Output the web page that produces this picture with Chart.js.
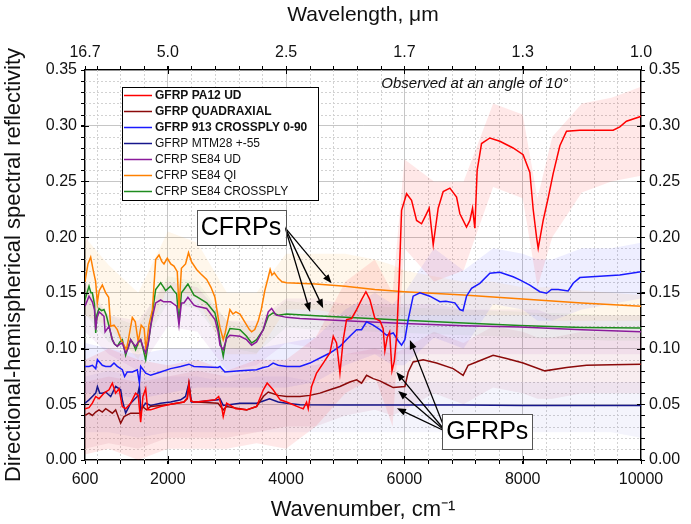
<!DOCTYPE html>
<html>
<head>
<meta charset="utf-8">
<script src="https://cdn.jsdelivr.net/npm/chart.js@4.4.0/dist/chart.umd.min.js"></script>
<style>
  html, body { margin: 0; padding: 0; background: #fff; }
</style>
</head>
<body>
<canvas id="grafico" width="691" height="524"></canvas>
<script>
// Ejes: numero de onda abajo, longitud de onda arriba (mismas posiciones)
var wnTicks = [600, 2000, 4000, 6000, 8000, 10000];
var wlLabels = ['16.7', '5.0', '2.5', '1.7', '1.3', '1.0'];
var yTicks = [0, 0.05, 0.10, 0.15, 0.20, 0.25, 0.30, 0.35];

var nombres = ['GFRP PA12 UD', 'GFRP QUADRAXIAL', 'GFRP 913 CROSSPLY 0-90', 'GFRP MTM28 +-55',
               'CFRP SE84 UD', 'CFRP SE84 QI', 'CFRP SE84 CROSSPLY'];

// Curvas medias [numero de onda, reflectividad]
var pa12 = [[600,0.046],[668,0.047],[724,0.051],[781,0.057],[837,0.055],[921,0.060],[1006,0.063],[1062,0.069],[1118,0.060],[1175,0.064],[1231,0.048],[1287,0.046],[1372,0.051],[1456,0.060],[1500,0.058],[1541,0.034],[1580,0.057],[1626,0.064],[1660,0.045],[1710,0.045],[1879,0.048],[2048,0.050],[2273,0.052],[2330,0.056],[2357,0.068],[2390,0.053],[2442,0.052],[2487,0.052],[2797,0.054],[2860,0.057],[2910,0.048],[2937,0.039],[2994,0.051],[3150,0.046],[3332,0.045],[3501,0.048],[3614,0.063],[3680,0.069],[3780,0.063],[3900,0.054],[4009,0.052],[4234,0.047],[4290,0.046],[4346,0.052],[4374,0.046],[4431,0.066],[4515,0.078],[4628,0.087],[4740,0.096],[4797,0.111],[4853,0.105],[4910,0.078],[4966,0.108],[5022,0.126],[5107,0.127],[5192,0.135],[5276,0.144],[5349,0.151],[5416,0.144],[5501,0.127],[5586,0.125],[5640,0.118],[5670,0.098],[5710,0.110],[5750,0.115],[5790,0.080],[5830,0.089],[5870,0.112],[5910,0.160],[5952,0.224],[6037,0.239],[6121,0.233],[6206,0.215],[6290,0.212],[6346,0.218],[6419,0.226],[6487,0.193],[6571,0.226],[6656,0.241],[6769,0.244],[6882,0.236],[6938,0.221],[7050,0.209],[7107,0.215],[7152,0.226],[7191,0.208],[7230,0.260],[7304,0.284],[7445,0.289],[7614,0.286],[7838,0.280],[8007,0.274],[8121,0.258],[8177,0.225],[8234,0.200],[8262,0.190],[8346,0.215],[8430,0.235],[8515,0.257],[8628,0.282],[8741,0.295],[8966,0.296],[9304,0.296],[9529,0.296],[9642,0.299],[9754,0.304],[9980,0.308],[10000,0.309]];
var quad = [[600,0.040],[668,0.042],[724,0.040],[781,0.043],[837,0.045],[893,0.043],[950,0.046],[1062,0.042],[1118,0.045],[1203,0.033],[1260,0.039],[1372,0.042],[1541,0.042],[1569,0.048],[1640,0.045],[1710,0.048],[1879,0.049],[2048,0.050],[2273,0.052],[2330,0.055],[2357,0.068],[2390,0.053],[2442,0.052],[2487,0.052],[2850,0.051],[2937,0.045],[2994,0.048],[3220,0.046],[3332,0.045],[3501,0.048],[3614,0.057],[3698,0.061],[3867,0.058],[4009,0.057],[4234,0.057],[4402,0.058],[4572,0.060],[4740,0.063],[4910,0.066],[5078,0.070],[5192,0.072],[5276,0.069],[5360,0.076],[5473,0.073],[5586,0.071],[5698,0.068],[5811,0.065],[6008,0.066],[6064,0.079],[6148,0.088],[6317,0.090],[6543,0.087],[6824,0.082],[6993,0.076],[7078,0.085],[7219,0.088],[7500,0.094],[7726,0.091],[8007,0.087],[8374,0.080],[8741,0.083],[9079,0.085],[9500,0.0855],[10000,0.086]];
var cp913 = [[600,0.084],[668,0.084],[724,0.085],[781,0.082],[810,0.090],[893,0.085],[950,0.084],[1034,0.084],[1090,0.087],[1146,0.084],[1231,0.081],[1270,0.075],[1315,0.079],[1400,0.079],[1484,0.081],[1520,0.069],[1541,0.084],[1626,0.078],[1710,0.076],[1879,0.079],[2048,0.082],[2217,0.084],[2357,0.086],[2442,0.084],[2850,0.083],[2882,0.084],[2965,0.079],[3220,0.080],[3501,0.081],[3614,0.083],[3700,0.084],[3780,0.087],[3867,0.085],[4009,0.084],[4234,0.084],[4402,0.087],[4572,0.0915],[4740,0.096],[4910,0.102],[5078,0.111],[5192,0.117],[5276,0.117],[5360,0.124],[5473,0.121],[5586,0.117],[5698,0.112],[5811,0.114],[5895,0.107],[5952,0.103],[6008,0.108],[6064,0.126],[6148,0.147],[6261,0.150],[6430,0.147],[6600,0.142],[6700,0.1425],[6853,0.141],[6937,0.135],[6990,0.134],[7050,0.147],[7135,0.154],[7275,0.1585],[7445,0.1676],[7613,0.1685],[7838,0.1645],[7951,0.1616],[8120,0.157],[8290,0.151],[8403,0.1496],[8487,0.153],[8600,0.153],[8768,0.1517],[8853,0.1586],[8966,0.1637],[9303,0.165],[9641,0.166],[10000,0.169]];
var mtm28 = [[600,0.051],[668,0.054],[724,0.057],[781,0.060],[810,0.066],[850,0.060],[893,0.060],[950,0.061],[1034,0.057],[1118,0.066],[1203,0.063],[1231,0.054],[1287,0.042],[1372,0.051],[1484,0.057],[1520,0.066],[1541,0.045],[1626,0.051],[1710,0.049],[1879,0.051],[2048,0.052],[2217,0.054],[2300,0.057],[2357,0.069],[2400,0.052],[2487,0.052],[2850,0.054],[2882,0.055],[2937,0.049],[3220,0.051],[3501,0.051],[3614,0.053],[3720,0.055],[3867,0.052],[4009,0.051],[4234,0.0495],[5000,0.0494],[6000,0.0494],[7000,0.0494],[8000,0.049],[9000,0.0488],[10000,0.049]];
var se84ud = [[600,0.138],[668,0.147],[724,0.142],[760,0.135],[781,0.117],[800,0.127],[837,0.133],[880,0.131],[921,0.129],[940,0.115],[1006,0.120],[1062,0.108],[1100,0.104],[1146,0.102],[1190,0.104],[1231,0.105],[1287,0.096],[1330,0.100],[1372,0.108],[1420,0.104],[1456,0.102],[1500,0.106],[1541,0.108],[1590,0.100],[1626,0.096],[1670,0.105],[1710,0.120],[1760,0.133],[1795,0.141],[1879,0.1436],[1930,0.142],[1964,0.142],[2048,0.142],[2100,0.140],[2150,0.138],[2189,0.121],[2230,0.141],[2273,0.141],[2340,0.146],[2442,0.139],[2487,0.138],[2657,0.136],[2797,0.126],[2850,0.115],[2882,0.103],[2937,0.099],[2994,0.109],[3050,0.112],[3220,0.111],[3332,0.108],[3417,0.103],[3501,0.106],[3614,0.117],[3698,0.133],[3755,0.136],[3830,0.130],[4009,0.128],[4234,0.127],[5000,0.125],[6000,0.1225],[7000,0.1205],[7951,0.1194],[9000,0.117],[10000,0.115]];
var se84qi = [[600,0.160],[650,0.176],[696,0.182],[740,0.170],[780,0.160],[808,0.141],[840,0.152],[893,0.157],[950,0.150],[1000,0.146],[1034,0.120],[1090,0.121],[1146,0.117],[1200,0.109],[1250,0.104],[1300,0.099],[1340,0.110],[1400,0.128],[1450,0.124],[1500,0.106],[1550,0.121],[1600,0.118],[1630,0.099],[1680,0.121],[1740,0.135],[1795,0.180],[1851,0.184],[1900,0.178],[1935,0.176],[1991,0.181],[2050,0.176],[2104,0.174],[2160,0.169],[2189,0.136],[2230,0.172],[2300,0.176],[2350,0.186],[2400,0.178],[2487,0.171],[2560,0.167],[2657,0.162],[2730,0.155],[2797,0.146],[2850,0.128],[2882,0.119],[2937,0.108],[2970,0.114],[3000,0.122],[3050,0.135],[3100,0.131],[3150,0.133],[3220,0.131],[3300,0.124],[3380,0.117],[3417,0.115],[3470,0.117],[3530,0.125],[3580,0.135],[3640,0.152],[3698,0.164],[3730,0.171],[3760,0.166],[3800,0.168],[3867,0.163],[3930,0.160],[4009,0.159],[4500,0.158],[5000,0.156],[5500,0.153],[6000,0.151],[7000,0.148],[8000,0.1445],[9000,0.141],[10000,0.138]];
var se84cp = [[600,0.144],[668,0.156],[700,0.150],[724,0.150],[760,0.140],[781,0.114],[800,0.130],[837,0.136],[880,0.134],[921,0.135],[960,0.130],[1006,0.120],[1062,0.108],[1100,0.104],[1146,0.102],[1190,0.106],[1231,0.108],[1287,0.094],[1320,0.100],[1372,0.108],[1420,0.104],[1456,0.099],[1500,0.105],[1541,0.108],[1590,0.098],[1626,0.090],[1670,0.105],[1710,0.120],[1760,0.140],[1795,0.153],[1879,0.159],[1930,0.155],[1964,0.152],[2048,0.156],[2100,0.152],[2150,0.149],[2189,0.124],[2230,0.150],[2273,0.153],[2340,0.158],[2442,0.148],[2487,0.1466],[2657,0.141],[2797,0.132],[2850,0.120],[2882,0.108],[2937,0.093],[2994,0.111],[3050,0.118],[3220,0.117],[3332,0.111],[3417,0.105],[3501,0.108],[3614,0.117],[3698,0.129],[3780,0.132],[3867,0.130],[4009,0.131],[4500,0.1295],[5000,0.128],[5586,0.1266],[6000,0.1255],[7000,0.123],[7951,0.1206],[9000,0.119],[10000,0.1185]];

// Bandas de dispersion (limite superior / inferior)
var bandWn = [600, 1000, 1500, 2000, 2500, 3000, 3500, 4000, 4500, 5000, 5500, 5800, 6000, 6500, 7000, 7500, 8000, 8250, 8500, 9000, 9500, 10000];
var pa12Up = [0.09, 0.10, 0.09, 0.085, 0.09, 0.08, 0.09, 0.09, 0.11, 0.16, 0.18, 0.15, 0.27, 0.25, 0.25, 0.32, 0.31, 0.235, 0.29, 0.32, 0.325, 0.335];
var pa12Lo = [0.005, 0.01, 0.0, 0.01, 0.01, 0.01, 0.015, 0.01, 0.03, 0.06, 0.075, 0.03, 0.19, 0.16, 0.17, 0.245, 0.235, 0.155, 0.2, 0.24, 0.25, 0.255];
var quadUp = [0.07, 0.075, 0.07, 0.075, 0.08, 0.075, 0.08, 0.085, 0.085, 0.095, 0.10, 0.095, 0.10, 0.115, 0.105, 0.12, 0.115, 0.11, 0.11, 0.115, 0.115, 0.115];
var quadLo = [0.01, 0.015, 0.01, 0.02, 0.02, 0.02, 0.025, 0.03, 0.03, 0.04, 0.045, 0.04, 0.045, 0.06, 0.05, 0.065, 0.06, 0.055, 0.055, 0.06, 0.06, 0.06];
var cp913Up = [0.105, 0.10, 0.095, 0.10, 0.10, 0.10, 0.10, 0.105, 0.11, 0.135, 0.15, 0.14, 0.15, 0.19, 0.17, 0.19, 0.185, 0.18, 0.18, 0.19, 0.19, 0.195];
var cp913Lo = [0.06, 0.06, 0.055, 0.06, 0.065, 0.065, 0.065, 0.065, 0.07, 0.085, 0.095, 0.085, 0.085, 0.11, 0.10, 0.14, 0.135, 0.125, 0.125, 0.135, 0.14, 0.145];
var mtmUp = [0.075, 0.08, 0.075, 0.075, 0.075, 0.07, 0.075, 0.075, 0.07, 0.07, 0.07, 0.07, 0.07, 0.07, 0.07, 0.07, 0.07, 0.07, 0.07, 0.07, 0.07, 0.07];
var mtmLo = [0.025, 0.025, 0.02, 0.025, 0.025, 0.025, 0.025, 0.025, 0.025, 0.025, 0.025, 0.025, 0.025, 0.025, 0.025, 0.025, 0.025, 0.025, 0.025, 0.025, 0.025, 0.02];
var udUp = [0.16, 0.13, 0.125, 0.16, 0.155, 0.125, 0.125, 0.145, 0.145, 0.14, 0.14, 0.14, 0.14, 0.14, 0.135, 0.135, 0.135, 0.135, 0.13, 0.13, 0.13, 0.13];
var udLo = [0.115, 0.095, 0.08, 0.12, 0.115, 0.08, 0.085, 0.105, 0.10, 0.095, 0.095, 0.095, 0.095, 0.095, 0.095, 0.095, 0.095, 0.095, 0.095, 0.095, 0.095, 0.095];
var qiUp = [0.20, 0.175, 0.15, 0.205, 0.195, 0.15, 0.15, 0.185, 0.185, 0.185, 0.18, 0.175, 0.17, 0.165, 0.16, 0.16, 0.155, 0.155, 0.155, 0.152, 0.15, 0.148];
var qiLo = [0.13, 0.12, 0.09, 0.155, 0.145, 0.095, 0.095, 0.135, 0.135, 0.13, 0.13, 0.13, 0.13, 0.13, 0.13, 0.13, 0.13, 0.13, 0.125, 0.125, 0.125, 0.125];
var cpUp = [0.155, 0.13, 0.12, 0.165, 0.16, 0.125, 0.12, 0.143, 0.14, 0.139, 0.138, 0.137, 0.137, 0.136, 0.135, 0.134, 0.133, 0.132, 0.132, 0.131, 0.13, 0.13];
var cpLo = [0.131, 0.106, 0.096, 0.141, 0.136, 0.101, 0.096, 0.119, 0.117, 0.116, 0.115, 0.114, 0.114, 0.113, 0.112, 0.111, 0.11, 0.109, 0.109, 0.108, 0.107, 0.107];

// Anotaciones en unidades de datos
var notaAngulo = { texto: 'Observed at an angle of 10\u00b0', wn: 5610, r: 0.3375 };
var cajaCFRP = { texto: 'CFRPs', wn: 3236, r: 0.2087 };
var origenCFRP = [3985, 0.2083];
var flechasCFRP = [[4769, 0.1586], [4627, 0.1362], [4403, 0.1331]];
var cajaGFRP = { texto: 'GFRPs', wn: 7402, r: 0.0256 };
var origenGFRP = [6700, 0.0256];
var flechasGFRP = [[5864, 0.079], [5895, 0.062], [5873, 0.0464], [6092, 0.1077]];

var fuente = '"Liberation Sans", Arial, sans-serif';
Chart.defaults.font.family = fuente;
Chart.defaults.color = '#000';

var series = [
    { datos: pa12,   color: '#ff0000', negrita: true,  up: pa12Up,  lo: pa12Lo,  banda: 'rgba(255, 0, 0, 0.09)' },
    { datos: quad,   color: '#8b0a0a', negrita: true,  up: quadUp,  lo: quadLo,  banda: 'rgba(170, 20, 60, 0.08)' },
    { datos: cp913,  color: '#1a1aff', negrita: true,  up: cp913Up, lo: cp913Lo, banda: 'rgba(40, 40, 255, 0.08)' },
    { datos: mtm28,  color: '#16168c', negrita: false, up: mtmUp,   lo: mtmLo,   banda: 'rgba(60, 60, 200, 0.06)' },
    { datos: se84ud, color: '#8b1a9b', negrita: false, up: udUp,    lo: udLo,    banda: 'rgba(140, 30, 160, 0.07)' },
    { datos: se84qi, color: '#ff8000', negrita: false, up: qiUp,    lo: qiLo,    banda: 'rgba(255, 150, 0, 0.08)' },
    { datos: se84cp, color: '#1e8c1e', negrita: false, up: cpUp,    lo: cpLo,    banda: 'rgba(30, 140, 30, 0.05)' }
];

function puntos(lista) {
    return lista.map(function (p) { return { x: p[0], y: p[1] }; });
}
function limite(valores) {
    return valores.map(function (v, i) { return { x: bandWn[i], y: v }; });
}

var datasets = [];
series.forEach(function (s, i) {
    datasets.push({
        label: nombres[i], data: puntos(s.datos), borderColor: s.color,
        borderWidth: 1.5, pointRadius: 0, fill: false, order: 0
    });
});
series.forEach(function (s, i) {
    datasets.push({
        label: nombres[i] + ' max', data: limite(s.up), borderColor: 'transparent', borderWidth: 0,
        pointRadius: 0, backgroundColor: s.banda, fill: '+1', order: 1
    });
    datasets.push({
        label: nombres[i] + ' min', data: limite(s.lo), borderColor: 'transparent', borderWidth: 0,
        pointRadius: 0, fill: false, order: 1
    });
});

function aPixel(chart, wn, r) {
    return [chart.scales.x.getPixelForValue(wn), chart.scales.y.getPixelForValue(r)];
}

function flecha(ctx, x0, y0, x1, y1) {
    var ang = Math.atan2(y1 - y0, x1 - x0);
    var largo = 9, ancho = 3.5;
    var bx = x1 - largo * Math.cos(ang), by = y1 - largo * Math.sin(ang);
    ctx.beginPath();
    ctx.moveTo(x0, y0);
    ctx.lineTo(bx, by);
    ctx.stroke();
    ctx.beginPath();
    ctx.moveTo(x1, y1);
    ctx.lineTo(bx + ancho * Math.sin(ang), by - ancho * Math.cos(ang));
    ctx.lineTo(bx - ancho * Math.sin(ang), by + ancho * Math.cos(ang));
    ctx.closePath();
    ctx.fill();
}

function caja(ctx, x, y, texto) {
    ctx.font = '25px ' + fuente;
    var w = ctx.measureText(texto).width + 8, h = 35;
    ctx.fillStyle = '#fff';
    ctx.fillRect(x - w / 2, y - h / 2, w, h);
    ctx.strokeStyle = '#555';
    ctx.lineWidth = 1;
    ctx.strokeRect(Math.round(x - w / 2) + 0.5, Math.round(y - h / 2) + 0.5, Math.round(w), h);
    ctx.fillStyle = '#000';
    ctx.textAlign = 'center';
    ctx.textBaseline = 'middle';
    ctx.fillText(texto, x, y + 1);
}

// Rejilla secundaria punteada y marcas menores
var rejillaMenor = {
    id: 'rejillaMenor',
    beforeDatasetsDraw: function (chart) {
        var ctx = chart.ctx, a = chart.chartArea;
        var sx = chart.scales.x, sy = chart.scales.y;
        ctx.save();
        ctx.strokeStyle = '#d2d2d2';
        ctx.lineWidth = 1;
        ctx.setLineDash([2, 2]);
        ctx.beginPath();
        for (var v = 800; v < 10000; v += 400) {
            if (v % 2000 === 0) continue;
            var px = Math.round(sx.getPixelForValue(v)) + 0.5;
            ctx.moveTo(px, a.top); ctx.lineTo(px, a.bottom);
        }
        for (var k = 1; k < 35; k++) {
            if (k % 5 === 0) continue;
            var py = Math.round(sy.getPixelForValue(k / 100)) + 0.5;
            ctx.moveTo(a.left, py); ctx.lineTo(a.right, py);
        }
        ctx.stroke();
        ctx.restore();
    },
    afterDraw: function (chart) {
        var ctx = chart.ctx, a = chart.chartArea;
        var sx = chart.scales.x, sy = chart.scales.y;
        ctx.save();
        ctx.strokeStyle = '#000';
        ctx.lineWidth = 1;
        ctx.beginPath();
        for (var v = 800; v < 10000; v += 400) {
            var px = Math.round(sx.getPixelForValue(v)) + 0.5;
            var dentro = (v % 2000 === 0) ? 4 : 0;
            ctx.moveTo(px, a.bottom - dentro); ctx.lineTo(px, a.bottom + 4);
            ctx.moveTo(px, a.top + dentro); ctx.lineTo(px, a.top - 4);
        }
        for (var k = 1; k < 35; k++) {
            var py = Math.round(sy.getPixelForValue(k / 100)) + 0.5;
            var d = (k % 5 === 0) ? 4 : 0;
            ctx.moveTo(a.left + d, py); ctx.lineTo(a.left - 4, py);
            ctx.moveTo(a.right - d, py); ctx.lineTo(a.right + 4, py);
        }
        ctx.stroke();
        ctx.restore();
    }
};

// Leyenda, nota y etiquetas con flechas
var anotaciones = {
    id: 'anotaciones',
    afterDatasetsDraw: function (chart) {
        var ctx = chart.ctx, a = chart.chartArea;
        ctx.save();
        var x0 = a.left + 37, y0 = a.top + 17, w = 196, h = 113;
        ctx.fillStyle = '#fff';
        ctx.fillRect(x0, y0, w, h);
        ctx.strokeStyle = '#000';
        ctx.lineWidth = 1;
        ctx.strokeRect(x0 + 0.5, y0 + 0.5, w, h);
        series.forEach(function (s, i) {
            var yy = y0 + 8.5 + i * 16;
            ctx.strokeStyle = s.color;
            ctx.lineWidth = 1.5;
            ctx.beginPath();
            ctx.moveTo(x0 + 2, yy); ctx.lineTo(x0 + 30, yy);
            ctx.stroke();
            ctx.fillStyle = '#111';
            ctx.font = (s.negrita ? 'bold ' : '') + '12px ' + fuente;
            ctx.textAlign = 'left';
            ctx.textBaseline = 'middle';
            ctx.fillText(nombres[i], x0 + 33, yy + 0.5);
        });

        var p = aPixel(chart, notaAngulo.wn, notaAngulo.r);
        ctx.font = 'italic 15px ' + fuente;
        ctx.fillStyle = '#111';
        ctx.textAlign = 'left';
        ctx.textBaseline = 'middle';
        ctx.fillText(notaAngulo.texto, p[0], p[1]);

        ctx.strokeStyle = '#000';
        ctx.fillStyle = '#000';
        ctx.lineWidth = 1.3;
        var o = aPixel(chart, origenCFRP[0], origenCFRP[1]);
        flechasCFRP.forEach(function (f) {
            var t = aPixel(chart, f[0], f[1]);
            flecha(ctx, o[0], o[1], t[0], t[1]);
        });
        o = aPixel(chart, origenGFRP[0], origenGFRP[1]);
        flechasGFRP.forEach(function (f) {
            var t = aPixel(chart, f[0], f[1]);
            flecha(ctx, o[0], o[1], t[0], t[1]);
        });
        p = aPixel(chart, cajaCFRP.wn, cajaCFRP.r);
        caja(ctx, p[0], p[1], cajaCFRP.texto);
        p = aPixel(chart, cajaGFRP.wn, cajaGFRP.r);
        caja(ctx, p[0], p[1], cajaGFRP.texto);
        ctx.restore();
    }
};

function ticksFijos(lista) {
    return function (scale) {
        scale.ticks = lista.map(function (v) { return { value: v }; });
    };
}

var ticksFont = { size: 16, family: fuente };
var borde = { color: '#000', width: 1.3 };

var ctx = document.getElementById('grafico').getContext('2d');
var grafico = new Chart(ctx, {
    type: 'line',
    data: { datasets: datasets },
    options: {
        responsive: false,
        animation: false,
        layout: { padding: 0 },
        plugins: { legend: { display: false }, tooltip: { enabled: false } },
        scales: {
            x: {
                type: 'linear', position: 'bottom', min: 600, max: 10000,
                afterBuildTicks: ticksFijos(wnTicks),
                afterFit: function (s) { s.height = 64; },
                ticks: { font: ticksFont, color: '#111', padding: 6, maxRotation: 0, autoSkip: false,
                         callback: function (v) { return String(v); } },
                grid: { color: '#c6c6c6', lineWidth: 1, tickColor: '#000', tickLength: 4 },
                border: borde,
                title: { display: true, text: 'Wavenumber, cm\u207b\u00b9', color: '#111',
                         font: { size: 22, family: fuente }, padding: { top: 0, bottom: 1 } }
            },
            xTop: {
                type: 'linear', position: 'top', min: 600, max: 10000,
                afterBuildTicks: ticksFijos(wnTicks),
                afterFit: function (s) { s.height = 70; },
                ticks: { font: ticksFont, color: '#111', padding: 4, maxRotation: 0, autoSkip: false,
                         callback: function (v) { return wlLabels[wnTicks.indexOf(v)]; } },
                grid: { drawOnChartArea: false, tickColor: '#000', tickLength: 4 },
                border: borde,
                title: { display: true, text: 'Wavelength, \u03bcm', color: '#111',
                         font: { size: 21, family: fuente }, padding: { top: 3, bottom: 0 } }
            },
            y: {
                type: 'linear', position: 'left', min: 0, max: 0.35,
                afterBuildTicks: ticksFijos(yTicks),
                afterFit: function (s) { s.width = 85; },
                ticks: { font: ticksFont, color: '#111', padding: 4,
                         callback: function (v) { return v.toFixed(2); } },
                grid: { color: '#c6c6c6', lineWidth: 1, tickColor: '#000', tickLength: 4 },
                border: borde,
                title: { display: true, text: 'Directional-hemispherical spectral reflectivity', color: '#111',
                         font: { size: 22, family: fuente }, padding: { top: 1, bottom: 0 } }
            },
            yRight: {
                type: 'linear', position: 'right', min: 0, max: 0.35,
                afterBuildTicks: ticksFijos(yTicks),
                afterFit: function (s) { s.width = 50; },
                ticks: { font: ticksFont, color: '#111', padding: 4,
                         callback: function (v) { return v.toFixed(2); } },
                grid: { drawOnChartArea: false, tickColor: '#000', tickLength: 4 },
                border: borde
            }
        }
    },
    plugins: [rejillaMenor, anotaciones]
});
</script>
</body>
</html>
